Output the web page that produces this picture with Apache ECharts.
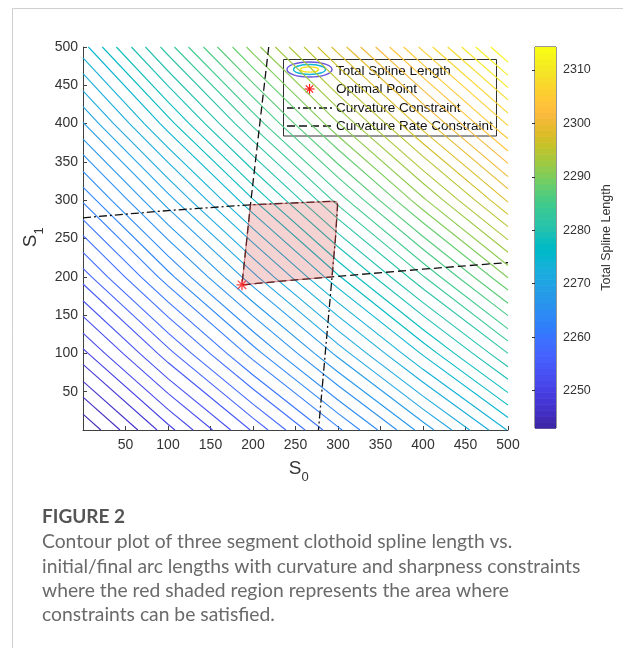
<!DOCTYPE html>
<html><head><meta charset="utf-8">
<script src="https://cdn.jsdelivr.net/npm/echarts@6/dist/echarts.min.js"></script>
<style>html,body{margin:0;padding:0;background:#fff}#c{width:623px;height:648px}</style>
</head><body><div id="c"></div>
<script>
// ---------- data ----------
const S_GRID = [0, 100, 200, 300, 400, 500];            // S0 (columns) and S1 (rows)
const LENGTH_GRID = [                                    // total spline length; rows S1=0..500
  [2243.0, 2249.2, 2255.3, 2261.5, 2267.7, 2273.9],
  [2249.3, 2255.9, 2262.4, 2268.9, 2275.4, 2281.9],
  [2255.7, 2262.6, 2269.4, 2276.3, 2283.1, 2290.0],
  [2262.0, 2269.2, 2276.4, 2283.7, 2290.9, 2298.1],
  [2268.4, 2275.9, 2283.5, 2291.1, 2298.6, 2306.2],
  [2274.7, 2282.6, 2290.5, 2298.5, 2306.4, 2314.3]
];
const CONTOUR_LEVELS = [
  2244.3, 2245.7, 2247.0, 2248.4, 2249.7, 2251.0, 2252.4, 2253.7, 2255.1, 2256.4,
  2257.7, 2259.1, 2260.4, 2261.8, 2263.1, 2264.4, 2265.8, 2267.1, 2268.5, 2269.8,
  2271.1, 2272.5, 2273.8, 2275.2, 2276.5, 2277.8, 2279.2, 2280.5, 2281.9, 2283.2,
  2284.5, 2285.9, 2287.2, 2288.6, 2289.9, 2291.2, 2292.6, 2293.9, 2295.3, 2296.6,
  2297.9, 2299.3, 2300.6, 2302.0, 2303.3, 2304.6, 2306.0, 2307.3, 2308.7, 2310.0,
  2311.3, 2312.7
];
const COLOR_RANGE = [2243, 2314.3];
const COLORBAR_TICKS = [2250, 2260, 2270, 2280, 2290, 2300, 2310];
const AXIS_TICKS = [50, 100, 150, 200, 250, 300, 350, 400, 450, 500];

const CURV_S0 = [0, 100, 197, 260, 292, 298.5, 299.5, 297, 293, 285, 277];     // curvature constraint
const CURV_S1 = [277, 286.5, 294, 297, 298.5, 298, 294, 250, 200, 100, 0];
const RATE_S0 = [218.5, 208, 197, 187, 240, 293, 400, 500];                     // curvature rate constraint
const RATE_S1 = [500, 400, 294, 189.5, 195, 200, 210, 218.6];
const REGION_S0 = [187, 197, 260, 292, 298.5, 299.5, 297, 293, 240];           // feasible region
const REGION_S1 = [189.5, 294, 297, 298.5, 298, 294, 250, 200, 195];
const OPTIMAL_S0 = [187];
const OPTIMAL_S1 = [189.5];

// ---------- styles ----------
const PARULA = [
[0.2422,0.1504,0.6603],[0.2504,0.1650,0.7076],[0.2578,0.1818,0.7511],[0.2647,0.1978,0.7952],
[0.2706,0.2147,0.8364],[0.2751,0.2342,0.8710],[0.2783,0.2559,0.8991],[0.2803,0.2782,0.9221],
[0.2813,0.3006,0.9414],[0.2810,0.3228,0.9579],[0.2795,0.3447,0.9717],[0.2760,0.3667,0.9829],
[0.2699,0.3892,0.9906],[0.2602,0.4123,0.9952],[0.2440,0.4358,0.9988],[0.2206,0.4603,0.9973],
[0.1963,0.4847,0.9892],[0.1834,0.5074,0.9798],[0.1786,0.5289,0.9682],[0.1764,0.5499,0.9520],
[0.1687,0.5703,0.9359],[0.1540,0.5902,0.9218],[0.1460,0.6091,0.9079],[0.1380,0.6276,0.8973],
[0.1248,0.6459,0.8883],[0.1113,0.6630,0.8763],[0.0952,0.6798,0.8598],[0.0689,0.6948,0.8394],
[0.0297,0.7082,0.8163],[0.0036,0.7203,0.7917],[0.0067,0.7312,0.7660],[0.0433,0.7411,0.7394],
[0.0964,0.7500,0.7120],[0.1408,0.7584,0.6842],[0.1717,0.7670,0.6554],[0.1938,0.7758,0.6251],
[0.2161,0.7843,0.5923],[0.2470,0.7918,0.5567],[0.2906,0.7973,0.5188],[0.3406,0.8008,0.4789],
[0.3909,0.8029,0.4354],[0.4456,0.8024,0.3909],[0.5044,0.7993,0.3480],[0.5616,0.7942,0.3045],
[0.6174,0.7876,0.2612],[0.6720,0.7793,0.2227],[0.7242,0.7698,0.1910],[0.7738,0.7598,0.1646],
[0.8203,0.7498,0.1535],[0.8634,0.7406,0.1596],[0.9035,0.7330,0.1774],[0.9393,0.7288,0.2100],
[0.9728,0.7298,0.2394],[0.9956,0.7434,0.2371],[0.9970,0.7659,0.2199],[0.9952,0.7893,0.2028],
[0.9892,0.8136,0.1885],[0.9786,0.8386,0.1766],[0.9676,0.8639,0.1643],[0.9610,0.8890,0.1537],
[0.9597,0.9135,0.1423],[0.9628,0.9373,0.1265],[0.9691,0.9606,0.1064],[0.9769,0.9839,0.0805]
];
function rgb(c){return 'rgb('+Math.round(c[0]*255)+','+Math.round(c[1]*255)+','+Math.round(c[2]*255)+')';}
function colorOf(v){
  let i = Math.floor((v-COLOR_RANGE[0])/(COLOR_RANGE[1]-COLOR_RANGE[0])*PARULA.length);
  i = Math.max(0, Math.min(PARULA.length-1, i));
  return rgb(PARULA[i]);
}
const FONT = '"Liberation Sans", Arial, Helvetica, sans-serif';
const CAPFONT = 'Lato, "Open Sans", sans-serif';
const TXT = '#333333';

// ---------- contouring (marching squares on the grid) ----------
function contour(level){
  const segs = [];
  const n = S_GRID.length;
  for (let j=0;j<n-1;j++) for (let i=0;i<n-1;i++){
    const p = [
      [S_GRID[i],S_GRID[j],LENGTH_GRID[j][i]],
      [S_GRID[i+1],S_GRID[j],LENGTH_GRID[j][i+1]],
      [S_GRID[i+1],S_GRID[j+1],LENGTH_GRID[j+1][i+1]],
      [S_GRID[i],S_GRID[j+1],LENGTH_GRID[j+1][i]]
    ];
    const pts = [];
    for (let e=0;e<4;e++){
      const a=p[e], b=p[(e+1)%4];
      const da=a[2]-level, db=b[2]-level;
      if ((da<0 && db>=0) || (da>=0 && db<0)){
        const t=(level-a[2])/(b[2]-a[2]);
        pts.push([a[0]+t*(b[0]-a[0]), a[1]+t*(b[1]-a[1])]);
      }
    }
    if (pts.length===2) segs.push(pts);
    else if (pts.length===4){ segs.push([pts[0],pts[1]]); segs.push([pts[2],pts[3]]); }
  }
  const key = q => q[0].toFixed(3)+','+q[1].toFixed(3);
  const chains = [];
  while (segs.length){
    let chain = segs.pop().slice();
    let grown = true;
    while (grown){
      grown = false;
      for (let k=0;k<segs.length;k++){
        const s = segs[k];
        if (key(s[0])===key(chain[chain.length-1])) { chain.push(s[1]); }
        else if (key(s[1])===key(chain[chain.length-1])) { chain.push(s[0]); }
        else if (key(s[1])===key(chain[0])) { chain.unshift(s[0]); }
        else if (key(s[0])===key(chain[0])) { chain.unshift(s[1]); }
        else continue;
        segs.splice(k,1); grown = true; break;
      }
    }
    chains.push(chain);
  }
  return chains;
}
const contourChains = [];
CONTOUR_LEVELS.forEach(L => {
  contour(L).forEach(ch => contourChains.push({pts: ch, color: colorOf(L)}));
});

// asterisk marker (filled path)
const STAR = 'path://M8.8,0 L11.2,0 L11.2,20 L8.8,20 Z M0,8.8 L20,8.8 L20,11.2 L0,11.2 Z M3.2,1.5 L18.5,16.8 L16.8,18.5 L1.5,3.2 Z M16.8,1.5 L18.5,3.2 L3.2,18.5 L1.5,16.8 Z';

function starLines(cx, cy, r){
  const d = r*0.72;
  const st = {stroke:'#ff1a1a', lineWidth:1.2};
  return [
    {type:'line', shape:{x1:cx-r, y1:cy, x2:cx+r, y2:cy}, style:st},
    {type:'line', shape:{x1:cx, y1:cy-r, x2:cx, y2:cy+r}, style:st},
    {type:'line', shape:{x1:cx-d, y1:cy-d, x2:cx+d, y2:cy+d}, style:st},
    {type:'line', shape:{x1:cx-d, y1:cy+d, x2:cx+d, y2:cy-d}, style:st}
  ];
}

const chart = echarts.init(document.getElementById('c'), null, {renderer:'canvas'});
const axisCommon = {
  type:'value', min:0, max:500, interval:50,
  axisLine:{show:true, onZero:false, lineStyle:{color:'#404040', width:1}},
  axisTick:{show:true, inside:true, length:4, lineStyle:{color:'#404040'}},
  splitLine:{show:false},
};
const option = {
  animation:false,
  backgroundColor:'#fff',
  grid:[
    {left:83, top:47, width:425, height:383, containLabel:false},
    {left:535, top:47, width:21, height:381, show:true, borderColor:'#303030', borderWidth:1, backgroundColor:'transparent'}
  ],
  xAxis:[
    Object.assign({}, axisCommon, {gridIndex:0,
      axisLabel:{show:true, margin:8, color:TXT, fontSize:14, fontFamily:FONT,
        formatter: v => AXIS_TICKS.indexOf(v) >= 0 ? String(v) : ''}}),
    {type:'value', gridIndex:1, min:0, max:1, show:false}
  ],
  yAxis:[
    Object.assign({}, axisCommon, {gridIndex:0,
      axisLabel:{show:true, margin:5, color:TXT, fontSize:14, fontFamily:FONT,
        formatter: v => AXIS_TICKS.indexOf(v) >= 0 ? String(v) : ''}}),
    {type:'value', gridIndex:1, position:'right', min:COLOR_RANGE[0], max:COLOR_RANGE[1],
      axisLine:{show:false}, splitLine:{show:false},
      axisTick:{show:true, inside:true, length:3, customValues:COLORBAR_TICKS, lineStyle:{color:'#303030'}},
      axisLabel:{show:true, margin:7, color:TXT, fontSize:12.5, fontFamily:FONT, customValues:COLORBAR_TICKS,
        formatter: v => String(v)},
      name:'Total Spline Length', nameLocation:'middle', nameRotate:90, nameGap:44,
      nameTextStyle:{color:TXT, fontSize:12.5, fontFamily:FONT}}
  ],
  series:[
    {type:'custom', name:'colorbar', xAxisIndex:1, yAxisIndex:1, silent:true, z:1, progressive:0,
      data: PARULA.map((c,i)=>i),
      renderItem:(params, api)=>{
        const i = api.value(0);
        const step = (COLOR_RANGE[1]-COLOR_RANGE[0])/PARULA.length;
        const lo = COLOR_RANGE[0]+i*step, hi = lo+step;
        const p1 = api.coord([0, hi]), p2 = api.coord([1, lo]);
        return {type:'rect', shape:{x:p1[0], y:p1[1], width:p2[0]-p1[0], height:p2[1]-p1[1]+0.6},
          style:{fill: rgb(PARULA[i])}};
      }},
    {type:'custom', name:'Total Spline Length', xAxisIndex:0, yAxisIndex:0, silent:true, z:2, progressive:0,
      data: contourChains.map((c,i)=>i),
      renderItem:(params, api)=>{
        const c = contourChains[api.value(0)];
        return {type:'polyline', shape:{points: c.pts.map(p=>api.coord(p))},
          style:{stroke:c.color, lineWidth:1.1, fill:null}};
      }},
    {type:'line', name:'Curvature Constraint', xAxisIndex:0, yAxisIndex:0, showSymbol:false, silent:true, z:3,
      data: CURV_S0.map((x,i)=>[x, CURV_S1[i]]),
      lineStyle:{color:'#111', width:1.3, type:[8,3,2,3]}},
    {type:'line', name:'Curvature Rate Constraint', xAxisIndex:0, yAxisIndex:0, showSymbol:false, silent:true, z:3,
      data: RATE_S0.map((x,i)=>[x, RATE_S1[i]]),
      lineStyle:{color:'#111', width:1.3, type:[8,4]}},
    {type:'custom', name:'region', xAxisIndex:0, yAxisIndex:0, silent:true, z:4,
      data:[0],
      renderItem:(params, api)=>{
        const pts = REGION_S0.map((x,i)=>api.coord([x, REGION_S1[i]]));
        return {type:'polygon', shape:{points:pts},
          style:{fill:'rgba(215,55,55,0.22)', stroke:'rgba(170,50,50,0.5)', lineWidth:1.2}};
      }},
    {type:'scatter', name:'Optimal Point', xAxisIndex:0, yAxisIndex:0, silent:true, z:5,
      data: OPTIMAL_S0.map((x,i)=>[x, OPTIMAL_S1[i]]),
      symbol: STAR, symbolSize:11, itemStyle:{color:'#ff1a1a'}}
  ],
  graphic:[
    // page frame
    {type:'line', silent:true, shape:{x1:12.5, y1:8.5, x2:623, y2:8.5}, style:{stroke:'#cfcfcf', lineWidth:1}},
    {type:'line', silent:true, shape:{x1:12.5, y1:8.5, x2:12.5, y2:648}, style:{stroke:'#cfcfcf', lineWidth:1}},
    // axis names
    {type:'text', silent:true, x:295, y:469, style:{text:'S', font:'19px '+FONT, fill:TXT, align:'center', verticalAlign:'middle'}},
    {type:'text', silent:true, x:305, y:477, style:{text:'0', font:'13px '+FONT, fill:TXT, align:'center', verticalAlign:'middle'}},
    {type:'text', silent:true, x:31, y:241, rotation:Math.PI/2, style:{text:'S', font:'19px '+FONT, fill:TXT, align:'center', verticalAlign:'middle'}},
    {type:'text', silent:true, x:39, y:231, rotation:Math.PI/2, style:{text:'1', font:'13px '+FONT, fill:TXT, align:'center', verticalAlign:'middle'}},
    // legend
    {type:'group', z:100, silent:true, children:[
      {type:'rect', shape:{x:283.5, y:59.5, width:213, height:76.5}, style:{fill:'#fff', stroke:'#303030', lineWidth:1}},
      {type:'ellipse', shape:{cx:309.5, cy:69.5, rx:22.5, ry:7.5}, style:{fill:'none', stroke:'#6a55dc', lineWidth:1.4}},
      {type:'ellipse', shape:{cx:309.5, cy:69.5, rx:16, ry:5}, style:{fill:'none', stroke:'#14b6d6', lineWidth:1.4}},
      {type:'ellipse', shape:{cx:309.5, cy:69.5, rx:9, ry:2.6}, style:{fill:'none', stroke:'#f4e21c', lineWidth:1.4}}
    ].concat(starLines(309.5, 89, 5)).concat([
      {type:'line', shape:{x1:287, y1:108, x2:332, y2:108}, style:{stroke:'#111', lineWidth:1.3, lineDash:[8,3,2,3]}},
      {type:'line', shape:{x1:287, y1:126, x2:332, y2:126}, style:{stroke:'#111', lineWidth:1.3, lineDash:[8,4]}},
      {type:'text', x:336, y:71, style:{text:'Total Spline Length', font:'13.5px '+FONT, fill:'#111', verticalAlign:'middle'}},
      {type:'text', x:336, y:89.5, style:{text:'Optimal Point', font:'13.5px '+FONT, fill:'#111', verticalAlign:'middle'}},
      {type:'text', x:336, y:108, style:{text:'Curvature Constraint', font:'13.5px '+FONT, fill:'#111', verticalAlign:'middle'}},
      {type:'text', x:336, y:126, style:{text:'Curvature Rate Constraint', font:'13.5px '+FONT, fill:'#111', verticalAlign:'middle'}}
    ])},
    // caption
    {type:'text', silent:true, x:42, y:517, style:{text:'FIGURE 2', font:'bold 19px '+CAPFONT, fill:'#555', verticalAlign:'middle'}},
    {type:'text', silent:true, x:42, y:542, style:{text:'Contour plot of three segment clothoid spline length vs.', font:'19.3px '+CAPFONT, fill:'#6a6a6a', verticalAlign:'middle'}},
    {type:'text', silent:true, x:42, y:566.5, style:{text:'initial/final arc lengths with curvature and sharpness constraints', font:'19.3px '+CAPFONT, fill:'#6a6a6a', verticalAlign:'middle'}},
    {type:'text', silent:true, x:42, y:591, style:{text:'where the red shaded region represents the area where', font:'19.3px '+CAPFONT, fill:'#6a6a6a', verticalAlign:'middle'}},
    {type:'text', silent:true, x:42, y:615, style:{text:'constraints can be satisfied.', font:'19.3px '+CAPFONT, fill:'#6a6a6a', verticalAlign:'middle'}}
  ]
};
chart.setOption(option);
</script>
</body></html>
